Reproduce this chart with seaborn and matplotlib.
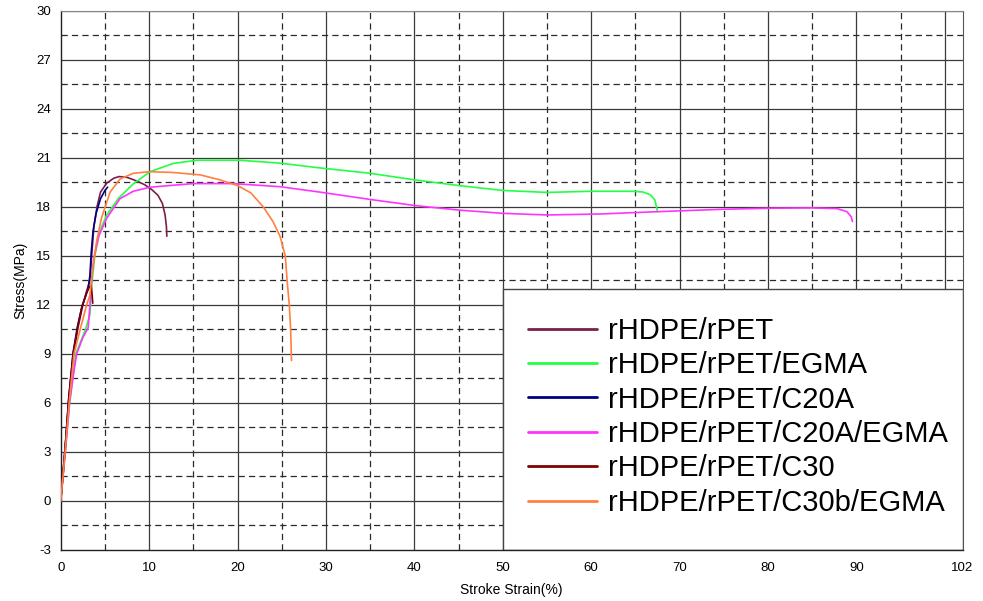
import numpy as np
import pandas as pd
import matplotlib
matplotlib.use("Agg")
import matplotlib.pyplot as plt
from matplotlib.patches import Rectangle
from matplotlib.ticker import MultipleLocator
import seaborn as sns

# Stress-strain curves (strain %, stress MPa)
names = [
    "rHDPE/rPET",
    "rHDPE/rPET/EGMA",
    "rHDPE/rPET/C20A",
    "rHDPE/rPET/C20A/EGMA",
    "rHDPE/rPET/C30",
    "rHDPE/rPET/C30b/EGMA",
]
colors = ["#7b1f4a", "#22ff44", "#000080", "#ff33ff", "#800000", "#ff8040"]

pet_x = [0, 0.5, 0.9, 1.45, 1.95, 2.5, 2.9, 3.3, 3.5, 3.75, 4.1, 4.5, 5.2, 6.0, 6.6,
         7.5, 8.5, 9.5, 10.3, 11.0, 11.5, 11.8, 11.95, 12.0]
pet_y = [0, 3.2, 6.1, 9.0, 10.6, 12.0, 12.8, 13.5, 15.0, 16.8, 18.0, 18.9, 19.45, 19.75, 19.85,
         19.8, 19.6, 19.35, 19.05, 18.7, 18.2, 17.5, 16.8, 16.2]

egma_x = [0, 0.5, 1.0, 1.7, 2.8, 3.3, 3.5, 3.85, 4.4, 5.2, 6.5, 8.2, 10.1, 12.7, 15.4, 20.3,
          24.8, 29.3, 35, 40, 45, 50, 55, 60, 64.8, 65.9, 66.7, 67.2, 67.5]
egma_y = [0, 3.0, 6.0, 9.0, 10.5, 11.4, 13.2, 15.0, 16.5, 17.5, 18.5, 19.4, 20.15, 20.65, 20.85, 20.85,
          20.67, 20.38, 20.05, 19.65, 19.3, 19.0, 18.88, 18.95, 18.95, 18.9, 18.73, 18.42, 17.7]

c20a_x = [0, 0.5, 0.9, 1.4, 1.9, 2.4, 2.8, 3.1, 3.3, 3.45, 3.65, 4.0, 4.5, 5.0, 5.3]
c20a_y = [0, 3.3, 6.3, 9.1, 10.7, 11.9, 12.5, 13.0, 13.8, 15.2, 16.5, 17.6, 18.5, 19.0, 19.2]

c20a_egma_x = [0, 0.5, 1.0, 1.4, 1.8, 2.5, 3.1, 3.3, 3.55, 3.8, 4.3, 5.2, 6.7, 8.2, 10.1, 15, 19.5,
               24.8, 29.3, 35, 40, 45, 50, 55, 61, 67.4, 75, 80, 85, 87.8, 88.9, 89.4, 89.55]
c20a_egma_y = [0, 2.9, 6.0, 7.6, 9.0, 10.0, 10.6, 12.0, 14.0, 15.0, 16.2, 17.3, 18.5, 18.95, 19.2, 19.42, 19.42,
               19.23, 18.9, 18.45, 18.08, 17.8, 17.6, 17.5, 17.56, 17.7, 17.85, 17.91, 17.93, 17.89, 17.71, 17.4, 17.1]

c30_x = [0, 0.5, 0.9, 1.4, 1.9, 2.4, 2.9, 3.25, 3.45, 3.55, 3.62]
c30_y = [0, 3.2, 6.2, 9.0, 10.6, 11.9, 12.7, 13.1, 13.2, 12.6, 12.1]

c30b_x = [0, 0.5, 0.95, 1.5, 2.2, 2.93, 3.3, 3.68, 4.06, 4.6, 5.58, 6.7, 8.2, 10.1, 12.7, 15.8, 18,
          20, 21.5, 22.9, 24.0, 24.8, 25.4, 25.6, 25.85, 26.0, 26.1]
c30b_y = [0, 3.0, 6.0, 9.0, 10.5, 12.0, 12.6, 14.5, 15.9, 17.3, 18.9, 19.7, 20.05, 20.15, 20.1, 19.95, 19.65,
          19.3, 18.85, 18.0, 17.1, 16.2, 15.0, 13.5, 12.0, 10.5, 8.6]

xs = [pet_x, egma_x, c20a_x, c20a_egma_x, c30_x, c30b_x]
ys = [pet_y, egma_y, c20a_y, c20a_egma_y, c30_y, c30b_y]

x_ticks = [0, 10, 20, 30, 40, 50, 60, 70, 80, 90, 102]
y_ticks = list(range(-3, 31, 3))

sns.set_style("white")
plt.rcParams["font.family"] = ["Liberation Sans", "DejaVu Sans"]
plt.rcParams["lines.scale_dashes"] = False
plt.rcParams["axes.unicode_minus"] = False
plt.rcParams["text.color"] = "black"
plt.rcParams["axes.labelcolor"] = "black"
plt.rcParams["xtick.labelcolor"] = "black"
plt.rcParams["ytick.labelcolor"] = "black"

fig = plt.figure(figsize=(9.83, 6.01), dpi=100)
ax = fig.add_axes([0.0618, 0.0849, 0.9174, 0.8973])

# grid: solid at major, dashed at half steps
for gx in range(10, 101, 10):
    ax.axvline(gx, color="#3a3a3a", lw=0.9, zorder=1)
for gx in range(5, 100, 10):
    ax.axvline(gx, color="#2a2a2a", lw=0.9, dashes=(4.5, 3), zorder=1)
for gy in y_ticks[1:]:
    ax.axhline(gy, color="#3a3a3a", lw=0.9, zorder=1)
for gy in np.arange(-1.5, 30, 3):
    ax.axhline(gy, color="#2a2a2a", lw=0.9, dashes=(4.5, 3), zorder=1)

for name, col, x, y in zip(names, colors, xs, ys):
    df = pd.DataFrame({"strain": x, "stress": y})
    sns.lineplot(data=df, x="strain", y="stress", color=col, lw=1.2,
                 sort=False, estimator=None, label=name, ax=ax, zorder=3)

# legend box in the lower right corner
ax.add_patch(Rectangle((50, -3), 52, 16, facecolor="white", edgecolor="#444444",
                       lw=1.0, zorder=2))

handles, labels = ax.get_legend_handles_labels()
leg = ax.legend(handles, labels, loc="center left", bbox_to_anchor=(0.5186, 0.247),
                frameon=False, fontsize=21, handlelength=2.34, handletextpad=0.4,
                labelspacing=0.22, borderpad=0, borderaxespad=0, labelcolor="black")
for line in leg.get_lines():
    line.set_linewidth(2.0)

ax.set_xlim(0, 102)
ax.set_ylim(-3, 30)
ax.set_xticks(x_ticks)
ax.set_yticks(y_ticks)
ax.xaxis.set_minor_locator(MultipleLocator(5))
ax.tick_params(axis="x", which="major", direction="in", length=5, width=0.8,
               pad=9, labelsize=9.5, color="#333333")
ax.tick_params(axis="x", which="minor", direction="in", length=3, width=0.8, color="#333333")
ax.tick_params(axis="y", length=0, pad=7, labelsize=9.5)
ax.set_axisbelow(False)

ax.set_xlabel("Stroke Strain(%)", fontsize=10)
ax.set_ylabel("Stress(MPa)", fontsize=10)
ax.xaxis.set_label_coords(0.5, -0.062)
ax.yaxis.set_label_coords(-0.037, 0.5)

for side in ["left", "bottom"]:
    ax.spines[side].set_color("#222222")
    ax.spines[side].set_linewidth(1.0)
ax.spines["top"].set_color("#888888")
ax.spines["right"].set_color("#555555")

fig.savefig("out.png", dpi=100)
